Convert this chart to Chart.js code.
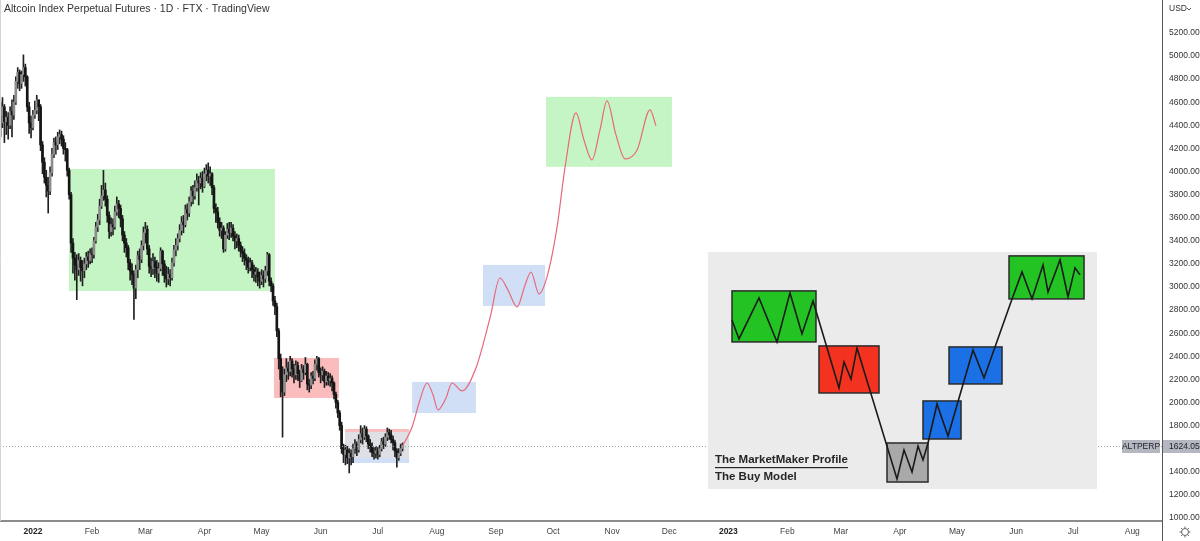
<!DOCTYPE html>
<html>
<head>
<meta charset="utf-8">
<script src="https://cdn.jsdelivr.net/npm/chart.js@4.4.1/dist/chart.umd.min.js"></script>
<style>
  html, body { margin: 0; padding: 0; background: #fff; }
  #wrap { width: 1200px; height: 541px; position: relative; }
</style>
</head>
<body>
<div id="wrap"><canvas id="chart" width="1200" height="541"></canvas></div>
<script>
// x values are days counted from 1 Jan 2022 (day 0)
const firstDay = -17

// daily closes, 15 Dec 2021 .. 13 Jul 2022
const closes = [
  4420,4560,4430,4470,4400,4520,4490,4600,4780,4860,4760,4840,4900,4820,4560,4420,4380,
  4490,4530,4620,4560,4230,4080,3950,3880,3830,3990,4150,4250,4230,4300,4320,4280,4200,4190,4010,3800,3380,3250,3190,3150,3230,3170,3140,3200,3260,3230,3290,
  3280,3400,3520,3580,3700,3790,3840,3760,3620,3480,3540,3520,3650,3720,3680,3590,3450,3380,3340,3210,3140,3110,2990,3150,3270,3240,3360,3470,
  3500,3330,3180,3160,3220,3170,3120,3160,3310,3200,3100,3070,3110,3080,3210,3320,3360,3420,3490,3560,3540,3670,3640,3740,3830,3790,3860,3920,3900,3940,3870,
  3980,4010,3960,3980,3860,3680,3650,3560,3490,3510,3330,3450,3500,3470,3510,3440,3400,3420,3360,3310,3290,3250,3230,3170,3210,3150,3110,3130,3090,3050,
  3100,3070,3140,3280,3050,3010,2880,2830,2620,2380,2200,2090,2240,2300,2270,2360,2290,2240,2320,2250,2190,2290,2260,2330,2160,2150,2230,2210,2330,2380,2260,
  2240,2270,2180,2230,2190,2210,2170,2070,2000,1910,1800,1600,1550,1590,1520,1560,1530,1600,1640,1590,1680,1730,1700,1770,1710,1640,1620,1570,1560,1580,
  1550,1600,1660,1640,1700,1740,1720,1680,1650,1580,1520,1560,1600,1624.05
]
const highs = [
  4600,4640,4580,4520,4510,4560,4620,4660,4820,4900,4880,4870,5010,4930,4830,4600,4480,
  4530,4610,4660,4620,4580,4260,4120,4010,3950,4040,4200,4290,4300,4340,4360,4350,4310,4250,4200,4030,3820,3420,3300,3280,3290,3260,3230,3250,3300,3310,3330,
  3340,3430,3560,3630,3760,3880,4010,3900,3790,3650,3600,3590,3700,3780,3750,3710,3620,3480,3420,3360,3240,3200,3140,3190,3310,3330,3400,3520,
  3560,3530,3360,3250,3290,3260,3230,3210,3340,3320,3230,3180,3170,3150,3250,3360,3420,3460,3540,3610,3620,3710,3720,3780,3870,3880,3920,3980,3960,3990,4000,
  4030,4060,4075,4040,3990,3880,3720,3690,3600,3560,3530,3480,3550,3560,3560,3540,3480,3460,3450,3390,3350,3330,3280,3260,3250,3230,3190,3170,3160,3130,
  3150,3140,3180,3300,3290,3080,3030,2920,2860,2640,2420,2310,2290,2380,2350,2400,2380,2330,2360,2350,2280,2330,2320,2390,2340,2200,2260,2270,2370,2400,2390,
  2300,2310,2290,2270,2260,2250,2230,2180,2090,2020,1930,1830,1640,1630,1620,1600,1590,1640,1680,1660,1720,1800,1780,1800,1790,1720,1680,1650,1610,1620,
  1610,1630,1690,1700,1730,1780,1770,1760,1710,1670,1600,1600,1640,1650
]
const lows = [
  4300,4380,4250,4320,4280,4370,4300,4450,4580,4720,4700,4720,4780,4740,4520,4330,4290,
  4360,4460,4500,4440,4180,3980,3900,3780,3640,3800,3960,4120,4150,4190,4240,4220,4150,4090,3960,3760,3300,3120,3060,2890,3100,3050,3010,3080,3150,3170,3200,
  3210,3250,3380,3480,3540,3680,3750,3700,3560,3420,3440,3450,3500,3620,3600,3520,3400,3300,3260,3150,3060,3020,2720,2900,3080,3150,3210,3320,
  3380,3280,3120,3090,3110,3080,3050,3040,3140,3100,3040,3000,3020,3010,3060,3180,3270,3320,3390,3450,3470,3520,3580,3610,3700,3720,3760,3830,3710,3850,3820,
  3860,3920,3900,3880,3800,3640,3560,3510,3440,3420,3300,3310,3420,3410,3430,3400,3330,3340,3310,3260,3220,3190,3150,3120,3140,3080,3050,3040,3010,2990,
  3020,3000,3040,3100,3010,2960,2840,2760,2570,2290,2050,1700,2060,2180,2200,2230,2220,2170,2200,2190,2130,2180,2200,2240,2110,2090,2120,2160,2190,2280,2220,
  2170,2190,2130,2150,2150,2140,2100,2030,1950,1870,1760,1560,1480,1460,1470,1390,1460,1480,1560,1540,1570,1650,1640,1680,1660,1600,1570,1530,1510,1520,
  1510,1530,1580,1600,1620,1670,1680,1650,1590,1530,1440,1500,1540,1580
]
const firstOpen = 4480

// projected path drawn on the chart
const projDays = [194, 199.0, 203.1, 206.8, 210.0, 212.6, 216.8, 219.9, 225.2, 232.5, 239.9, 245.1, 249.3, 254.1, 258.3, 261.4, 265.6, 269.8, 275.1, 279.3, 285.0, 289.2, 293.4, 297.6, 301.3, 306.0, 310.8, 317.1, 323.9, 327.0]
const projValues = [1624, 1788, 2022, 2169, 2065, 1935, 2039, 2169, 2100, 2299, 2732, 3078, 2974, 2827, 3018, 3130, 2940, 3087, 3520, 4040, 4507, 4273, 4100, 4360, 4611, 4317, 4109, 4187, 4533, 4395]

// marked ranges
const zoneStart  = [18.9, 126.5, 163.8, 163.8, 163.8, 199.0, 236.2, 269.3]
const zoneEnd    = [127.0, 160.6, 197.4, 197.4, 197.4, 232.5, 268.8, 335.4]
const zoneTop    = [4022, 2386, 1771, 1745, 1520, 2178, 3191, 4646]
const zoneBottom = [2966, 2039, 1745, 1520, 1476, 1909, 2836, 4040]
const zoneKind   = ['green', 'red', 'red', 'gray', 'blue', 'blue', 'blue', 'green']

// axis ticks
const monthTicks  = [0, 31, 59, 90, 120, 151, 181, 212, 243, 273, 304, 334, 365, 396, 424, 455, 485, 516, 546, 577]
const monthLabels = ['2022', 'Feb', 'Mar', 'Apr', 'May', 'Jun', 'Jul', 'Aug', 'Sep', 'Oct', 'Nov', 'Dec', '2023', 'Feb', 'Mar', 'Apr', 'May', 'Jun', 'Jul', 'Aug']
const priceTicks  = [1000, 1200, 1400, 1800, 2000, 2200, 2400, 2600, 2800, 3000, 3200, 3400, 3600, 3800, 4000, 4200, 4400, 4600, 4800, 5000, 5200]
const lastPrice = 1624.05

const FONT = '"Liberation Sans", Arial, sans-serif'
const zoneColors = {
  green: 'rgba(117, 232, 117, 0.42)',
  red: 'rgba(242, 96, 96, 0.42)',
  blue: 'rgba(110, 155, 225, 0.32)',
  gray: 'rgba(165, 168, 182, 0.36)'
}

// the "MarketMaker Profile" picture, in its own 389 x 237 frame
const inset = {
  left: 354.3, right: 558.5, top: 3304, bottom: 1251,
  w: 389, h: 237,
  boxes: [
    [24, 39, 84, 51, '#22c322'],
    [111, 94, 60, 47, '#f3321f'],
    [179, 191, 41, 39, '#a9a9a9'],
    [215, 149, 38, 38, '#1b70e6'],
    [241, 95, 53, 37, '#1b70e6'],
    [301, 4, 75, 43, '#22c322']
  ],
  path: [
    [24, 68], [31, 87], [51, 46], [69, 90], [82, 41], [94, 82], [105, 49],
    [131, 136], [136, 110], [143, 127], [149, 96],
    [189, 227], [196, 198], [204, 220], [210, 194], [215, 208], [220, 191],
    [229, 152], [240, 184], [265, 98], [276, 126], [287, 95],
    [304, 47], [314, 20], [324, 47], [335, 13], [340, 40], [352, 8], [360, 45], [367, 16], [372, 23]
  ]
}

const opens = closes.map((c, i) => i === 0 ? firstOpen : closes[i - 1])
const wickData = closes.map((c, i) => ({
  x: firstDay + i,
  y: [Math.min(lows[i], opens[i], c), Math.max(highs[i], opens[i], c)]
}))
const bodyData = closes.map((c, i) => ({ x: firstDay + i, y: [opens[i], c] }))
const bodyColors = closes.map((c, i) => c >= opens[i] ? '#8c8c8c' : '#151515')
const projData = projDays.map((d, i) => ({ x: d, y: projValues[i] }))

// no extra room around the axes, the plot runs to the window edges
const noPadding = (axis) => {
  axis.paddingTop = 0
  axis.paddingBottom = 0
  axis.paddingLeft = 0
  axis.paddingRight = 0
}

const zonesPlugin = {
  id: 'zones',
  beforeDatasetsDraw(chart) {
    const { ctx, scales: { x, y } } = chart
    ctx.save()
    zoneStart.forEach((s, i) => {
      const x1 = x.getPixelForValue(s)
      const x2 = x.getPixelForValue(zoneEnd[i])
      const y1 = y.getPixelForValue(zoneTop[i])
      const y2 = y.getPixelForValue(zoneBottom[i])
      ctx.fillStyle = zoneColors[zoneKind[i]]
      ctx.fillRect(x1, y1, x2 - x1, y2 - y1)
    })
    ctx.restore()
  }
}

const overlayPlugin = {
  id: 'overlay',
  afterDraw(chart) {
    const { ctx, chartArea, scales: { x, y } } = chart
    ctx.save()

    // last price line
    const py = Math.round(y.getPixelForValue(lastPrice)) + 0.5
    ctx.strokeStyle = '#a0a4ad'
    ctx.lineWidth = 1
    ctx.setLineDash([1, 2])
    ctx.beginPath()
    ctx.moveTo(chartArea.left, py)
    ctx.lineTo(chartArea.right, py)
    ctx.stroke()
    ctx.setLineDash([])

    // inset picture
    const L = x.getPixelForValue(inset.left)
    const R = x.getPixelForValue(inset.right)
    const T = y.getPixelForValue(inset.top)
    const B = y.getPixelForValue(inset.bottom)
    const sx = (R - L) / inset.w
    const sy = (B - T) / inset.h
    ctx.fillStyle = '#ebebeb'
    ctx.fillRect(L, T, R - L, B - T)
    inset.boxes.forEach(([bx, by, bw, bh, col]) => {
      ctx.fillStyle = col
      ctx.fillRect(L + bx * sx, T + by * sy, bw * sx, bh * sy)
      ctx.strokeStyle = '#2a2a2a'
      ctx.lineWidth = 1.5
      ctx.strokeRect(L + bx * sx, T + by * sy, bw * sx, bh * sy)
    })
    ctx.strokeStyle = '#1a1a1a'
    ctx.lineWidth = 1.6
    ctx.lineJoin = 'miter'
    ctx.beginPath()
    inset.path.forEach(([px, pyy], i) => {
      const cx = L + px * sx, cy = T + pyy * sy
      if (i === 0) ctx.moveTo(cx, cy)
      else ctx.lineTo(cx, cy)
    })
    ctx.stroke()
    ctx.fillStyle = '#262626'
    ctx.font = 'bold 11.5px ' + FONT
    ctx.textBaseline = 'middle'
    ctx.textAlign = 'left'
    const t1 = 'The MarketMaker Profile'
    ctx.fillText(t1, L + 7 * sx, T + 208 * sy)
    const w1 = ctx.measureText(t1).width
    ctx.fillRect(L + 7 * sx, T + 215 * sy, w1, 1.2)
    ctx.fillText('The Buy Model', L + 7 * sx, T + 225 * sy)

    // price tag and symbol tag
    const tagH = 13
    ctx.fillStyle = '#b4b7bf'
    ctx.fillRect(chartArea.right + 1, py - tagH / 2, chart.width - chartArea.right - 1, tagH)
    ctx.fillRect(chartArea.right - 40, py - tagH / 2, 38, tagH)
    ctx.fillStyle = '#1c1f26'
    ctx.font = '8.5px ' + FONT
    ctx.fillText(lastPrice.toFixed(2), chartArea.right + 7, py)
    ctx.textAlign = 'center'
    ctx.fillText('ALTPERP', chartArea.right - 21, py)

    // title
    ctx.textAlign = 'left'
    ctx.fillStyle = '#333'
    ctx.font = '10.5px ' + FONT
    ctx.fillText('Altcoin Index Perpetual Futures \u00b7 1D \u00b7 FTX \u00b7 TradingView', 4, 9)

    // currency
    ctx.font = '8.5px ' + FONT
    ctx.fillText('USD', chartArea.right + 7, 9)
    ctx.strokeStyle = '#555'
    ctx.lineWidth = 1
    ctx.beginPath()
    ctx.moveTo(chartArea.right + 25, 8)
    ctx.lineTo(chartArea.right + 27, 10)
    ctx.lineTo(chartArea.right + 29, 8)
    ctx.stroke()

    // axis divider down to the bottom and the settings gear
    ctx.strokeStyle = '#555'
    ctx.beginPath()
    ctx.moveTo(chartArea.right + 0.5, 0)
    ctx.lineTo(chartArea.right + 0.5, chart.height)
    ctx.stroke()
    const gx = 1185, gy = 532
    ctx.strokeStyle = '#666'
    ctx.beginPath()
    ctx.arc(gx, gy, 3.5, 0, Math.PI * 2)
    ctx.stroke()
    for (let k = 0; k < 8; k++) {
      const a = k * Math.PI / 4
      ctx.beginPath()
      ctx.moveTo(gx + Math.cos(a) * 3.5, gy + Math.sin(a) * 3.5)
      ctx.lineTo(gx + Math.cos(a) * 5.5, gy + Math.sin(a) * 5.5)
      ctx.stroke()
    }

    // window edge
    ctx.strokeStyle = '#d5d5d5'
    ctx.beginPath()
    ctx.moveTo(0.5, 0)
    ctx.lineTo(0.5, chartArea.bottom)
    ctx.stroke()
    ctx.restore()
  }
}

new Chart(document.getElementById('chart'), {
  type: 'bar',
  data: {
    datasets: [
      {
        type: 'line',
        data: projData,
        borderColor: '#e8687c',
        borderWidth: 1.2,
        pointRadius: 0,
        cubicInterpolationMode: 'monotone',
        order: 0
      },
      {
        data: bodyData,
        backgroundColor: bodyColors,
        barThickness: 2,
        grouped: false,
        order: 1
      },
      {
        data: wickData,
        backgroundColor: '#202020',
        barThickness: 1,
        grouped: false,
        order: 2
      }
    ]
  },
  options: {
    responsive: false,
    animation: false,
    events: [],
    layout: { padding: 0 },
    plugins: { legend: { display: false }, tooltip: { enabled: false } },
    scales: {
      x: {
        type: 'linear',
        min: -17.3,
        max: 592.6,
        offset: false,
        grid: { display: false, drawTicks: false },
        border: { display: true, color: '#8c8c8c', width: 2 },
        afterBuildTicks: (axis) => { axis.ticks = monthTicks.map(v => ({ value: v })) },
        afterFit: (axis) => { axis.height = 20; noPadding(axis) },
        ticks: {
          autoSkip: false,
          maxRotation: 0,
          padding: 6,
          color: (c) => (c.tick && (c.tick.value === 0 || c.tick.value === 365)) ? '#222' : '#444',
          font: (c) => ({
            family: FONT,
            size: 8.5,
            weight: (c.tick && (c.tick.value === 0 || c.tick.value === 365)) ? 'bold' : 'normal'
          }),
          callback: (v) => monthLabels[monthTicks.indexOf(v)]
        }
      },
      y: {
        position: 'right',
        min: 974,
        max: 5485,
        grid: { display: false, drawTicks: false },
        border: { display: true, color: '#555', width: 1 },
        afterBuildTicks: (axis) => { axis.ticks = priceTicks.map(v => ({ value: v })) },
        afterFit: (axis) => { axis.width = 38; noPadding(axis) },
        ticks: {
          padding: 7,
          color: '#333',
          font: { family: FONT, size: 8.5 },
          callback: (v) => Number(v).toFixed(2)
        }
      }
    }
  },
  plugins: [zonesPlugin, overlayPlugin]
})
</script>
</body>
</html>
